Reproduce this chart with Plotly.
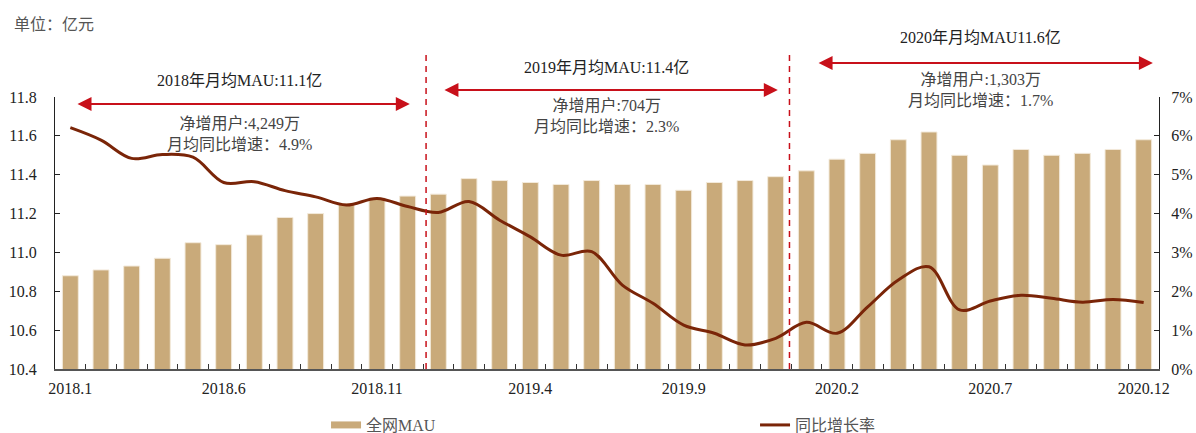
import plotly.graph_objects as go

months = [f"{y}.{m}" for y in (2018, 2019, 2020) for m in range(1, 13)]
mau = [10.88, 10.91, 10.93, 10.97, 11.05, 11.04, 11.09, 11.18, 11.20, 11.25, 11.28, 11.29,
       11.30, 11.38, 11.37, 11.36, 11.35, 11.37, 11.35, 11.35, 11.32, 11.36, 11.37, 11.39,
       11.42, 11.48, 11.51, 11.58, 11.62, 11.50, 11.45, 11.53, 11.50, 11.51, 11.53, 11.58]
yoy = [6.21, 5.89, 5.42, 5.52, 5.45, 4.80, 4.82, 4.59, 4.43, 4.22, 4.39, 4.18,
       4.03, 4.31, 3.83, 3.40, 2.93, 3.02, 2.16, 1.69, 1.13, 0.92, 0.62, 0.79,
       1.20, 0.92, 1.60, 2.29, 2.63, 1.52, 1.75, 1.90, 1.82, 1.72, 1.79, 1.71]
tick_idx = [0, 5, 10, 15, 20, 25, 30, 35]
tick_labels = [months[i] for i in tick_idx]

year_titles = ["2018年月均MAU:11.1亿", "2019年月均MAU:11.4亿", "2020年月均MAU11.6亿"]
year_notes = ["净增用户:4,249万<br>月均同比增速：4.9%",
              "净增用户:704万<br>月均同比增速：2.3%",
              "净增用户:1,303万<br>月均同比增速：1.7%"]

FONT = "Liberation Serif, Noto Sans CJK SC, serif"
BAR_C = "#C9AA7A"
LINE_C = "#7A2508"
RED = "#C8101A"

x = list(range(len(months)))

fig = go.Figure()
fig.add_trace(go.Bar(x=x, y=mau, name="全网MAU", marker=dict(color=BAR_C, line=dict(color="#F3EADB", width=1)),
                     width=0.52, showlegend=False))
fig.add_trace(go.Scatter(x=[None], y=[None], mode="lines", name="全网MAU",
                         line=dict(color=BAR_C, width=7)))
fig.add_trace(go.Scatter(x=x, y=yoy, mode="lines", name="同比增长率", yaxis="y2",
                         line=dict(color=LINE_C, width=3, shape="spline", smoothing=1)))

# vertical dashed separators
for xv in (11.6, 23.45):
    fig.add_shape(type="line", xref="x", yref="paper", x0=xv, x1=xv, y0=0, y1=1.165,
                  line=dict(color=RED, width=1.5, dash="6px,5px"))

# double-headed arrows
arrows = [(0.185, 11.07, 0.974), (12.15, 23.07, 1.026), (24.35, 35.3, 1.125)]
for x0, x1, yv in arrows:
    fig.add_annotation(x=x1, y=yv, ax=x0, ay=0, xref="x", yref="paper", axref="x", ayref="pixel",
                       text="", showarrow=True, arrowside="end+start", arrowhead=2, arrowsize=1.4,
                       arrowwidth=2, arrowcolor=RED)

title_pos = [(5.53, 1.0625), (17.47, 1.110), (29.69, 1.217)]
note_pos = [(5.53, 0.864), (17.47, 0.930), (29.69, 1.026)]
for t, (tx, ty) in zip(year_titles, title_pos):
    fig.add_annotation(x=tx, y=ty, xref="x", yref="paper", text=t, showarrow=False,
                       xanchor="center", yanchor="middle",
                       font=dict(family=FONT, size=16, color="#222"))
for t, (tx, ty) in zip(year_notes, note_pos):
    fig.add_annotation(x=tx, y=ty, xref="x", yref="paper", text=t, showarrow=False,
                       xanchor="center", yanchor="middle",
                       font=dict(family=FONT, size=16, color="#444"))

fig.add_annotation(x=-0.039, y=1.265, xref="paper", yref="paper", text="单位：亿元", showarrow=False,
                   xanchor="left", yanchor="middle", font=dict(family=FONT, size=16, color="#555"))

fig.update_layout(
    width=1196, height=433,
    margin=dict(l=55, r=37, t=97, b=64, autoexpand=False),
    paper_bgcolor="white", plot_bgcolor="white",
    font=dict(family=FONT, size=16, color="#222"),
    bargap=0.48,
    xaxis=dict(range=[-0.5, 35.5], tickmode="array", tickvals=tick_idx, ticktext=tick_labels,
               ticks="", showline=True, linecolor="#555", linewidth=2, showgrid=False, zeroline=False,
               ticklabelstandoff=4, automargin=False,
               minor=dict(tickmode="array", tickvals=[i + 0.5 for i in range(35)], ticks="inside",
                          ticklen=5, tickcolor="#333", tickwidth=1, showgrid=False)),
    yaxis=dict(range=[10.4, 11.8], dtick=0.2, tickformat=".1f", ticks="inside", ticklen=5,
               tickcolor="#222", showline=True, linecolor="#222", linewidth=1.2, showgrid=False,
               zeroline=False, ticklabelstandoff=14, automargin=False),
    yaxis2=dict(range=[0, 7], dtick=1, ticksuffix="%", overlaying="y", side="right", ticks="inside",
                ticklen=5, tickcolor="#222", showline=True, linecolor="#222", linewidth=1.2,
                showgrid=False, zeroline=False, ticklabelstandoff=8, automargin=False),
    legend=dict(orientation="h", x=0.2455, xanchor="left", y=-0.206, yanchor="middle",
                entrywidth=384, entrywidthmode="pixels", font=dict(family=FONT, size=16, color="#555")),
)

fig.write_html("out.html", config={"displayModeBar": False},
               post_script="document.body.style.margin='0';document.body.style.padding='0';")
